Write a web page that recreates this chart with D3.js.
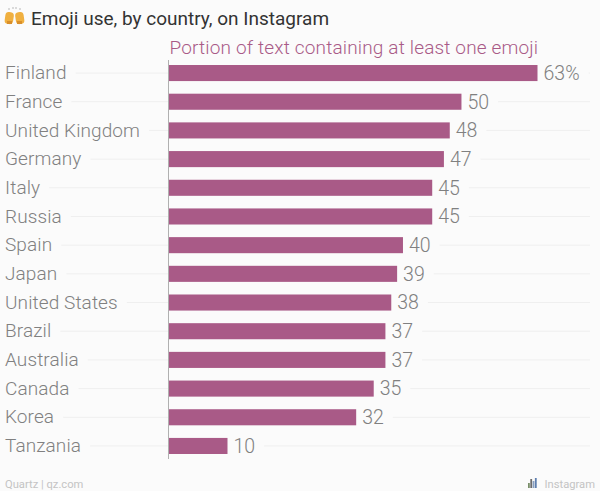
<!DOCTYPE html>
<html>
<head>
<meta charset="utf-8">
<script src="https://cdnjs.cloudflare.com/ajax/libs/d3/7.8.5/d3.min.js"></script>
<style>
  html, body { margin: 0; padding: 0; background: #fbfbfb; }
  text { font-family: Roboto, sans-serif; }
</style>
</head>
<body>
<div id="chart"></div>
<script>
const countries = ["Finland", "France", "United Kingdom", "Germany", "Italy", "Russia", "Spain",
    "Japan", "United States", "Brazil", "Australia", "Canada", "Korea", "Tanzania"];
const shares = [63, 50, 48, 47, 45, 45, 40, 39, 38, 37, 37, 35, 32, 10];
const title = "Emoji use, by country, on Instagram";
const subtitle = "Portion of text containing at least one emoji";

const width = 600, height = 491;
const left = 169, right = 595;

const x = d3.scaleLinear().domain([0, 63]).range([left, 537.5]);
const y = d3.scaleBand().domain(countries).range([58.7, 460.3]).paddingInner(0.44).paddingOuter(0.22);

const svg = d3.select("#chart").append("svg")
    .attr("width", width)
    .attr("height", height)
    .style("display", "block");

svg.append("text").attr("x", 31).attr("y", 25)
    .attr("font-size", 19).attr("fill", "#333").text(title);

svg.append("text").attr("x", 169.5).attr("y", 54)
    .attr("font-size", 19).attr("font-weight", 300).attr("letter-spacing", 0.16)
    .attr("fill", "#a95a87").text(subtitle);

// little raised hands icon
const icon = svg.append("g").attr("fill", "#f0b040");
icon.append("rect").attr("x", 5).attr("y", 12).attr("width", 8.5).attr("height", 12).attr("rx", 3.5)
    .attr("transform", "rotate(8 9 18)");
icon.append("rect").attr("x", 15.5).attr("y", 12).attr("width", 8.5).attr("height", 12).attr("rx", 3.5)
    .attr("transform", "rotate(-8 20 18)");
icon.append("path").attr("d", "M7,21h5v3h-5zM17,21h5v3h-5z").attr("fill", "#d98f2b");
svg.append("path").attr("d", "M9,10V8M13,9V7M16,9V7M20,10V8")
    .attr("stroke", "#aaa").attr("stroke-width", 0.8);

const rows = svg.selectAll("g.row").data(countries).enter().append("g")
    .attr("class", "row")
    .attr("transform", d => `translate(0,${y(d) + y.bandwidth() / 2})`);

const labels = rows.append("text")
    .attr("x", 5).attr("y", -0.5).attr("dy", "0.35em")
    .attr("font-size", 19).attr("font-weight", 300).attr("letter-spacing", 0.1)
    .attr("fill", "#808080")
    .text(d => d);

const values = rows.append("text")
    .attr("x", (d, i) => x(shares[i]) + 6).attr("dy", "0.35em")
    .attr("font-size", 19.5).attr("font-weight", 300)
    .attr("fill", "#808080")
    .text((d, i) => i === 0 ? shares[i] + "%" : shares[i]);

// gridlines run between the text and the bars
rows.each(function (d, i) {
    const row = d3.select(this);
    const labelEnd = labels.nodes()[i].getBBox().width + 5;
    const valueEnd = values.nodes()[i].getBBox().x + values.nodes()[i].getBBox().width;
    row.insert("line", "text").attr("x1", labelEnd + 9).attr("x2", left).attr("stroke", "#efefef");
    row.insert("line", "text").attr("x1", valueEnd + 9).attr("x2", right - 5).attr("stroke", "#efefef");
});

rows.append("rect")
    .attr("x", x(0))
    .attr("y", -y.bandwidth() / 2)
    .attr("width", (d, i) => x(shares[i]) - x(0))
    .attr("height", y.bandwidth())
    .attr("fill", "#a95a87");

svg.append("line")
    .attr("x1", left - 0.5).attr("x2", left - 0.5)
    .attr("y1", 60).attr("y2", 459)
    .attr("stroke", "#b0b0b0");

svg.append("text").attr("x", 5).attr("y", 488)
    .attr("font-size", 11.2).attr("fill", "#c4c4c4").text("Quartz | qz.com");
svg.append("text").attr("x", 595).attr("y", 488).attr("text-anchor", "end")
    .attr("font-size", 11.2).attr("fill", "#c4c4c4").text("Instagram");

// tiny bar chart icon next to the source
const sourceBars = [5, 9, 7, 10];
const iconColors = ["#7a8f6a", "#6c6c6c", "#8aa0c0", "#5f7fb0"];
svg.selectAll("rect.src").data(sourceBars).enter().append("rect")
    .attr("class", "src")
    .attr("x", (d, i) => 528 + i * 2.3)
    .attr("y", d => 488 - d)
    .attr("width", 1.8)
    .attr("height", d => d)
    .attr("fill", (d, i) => iconColors[i]);
</script>
</body>
</html>
